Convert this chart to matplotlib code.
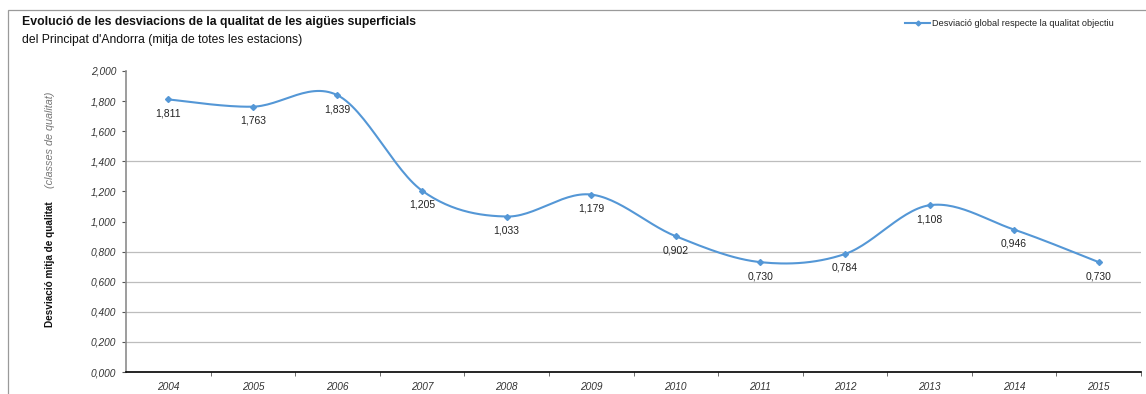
import numpy as np
import matplotlib
matplotlib.use("Agg")
import matplotlib.pyplot as plt
from matplotlib.patches import Rectangle
from matplotlib.lines import Line2D

plt.rcParams['font.family'] = ['Liberation Sans', 'DejaVu Sans']

years = ['2004', '2005', '2006', '2007', '2008', '2009',
         '2010', '2011', '2012', '2013', '2014', '2015']
deviation = [1.811, 1.763, 1.839, 1.205, 1.033, 1.179,
             0.902, 0.730, 0.784, 1.108, 0.946, 0.730]
y_ticks = [0.0, 0.2, 0.4, 0.6, 0.8, 1.0, 1.2, 1.4, 1.6, 1.8, 2.0]
grid_levels = [0.2, 0.4, 0.6, 0.8, 1.4]

LINE_COLOR = '#5497D6'
W, H = 1146, 394


def smooth_curve(xs, ys, steps=30):
    """Bezier smoothing through every point (Catmull-Rom style control points)."""
    pts = np.column_stack([xs, ys]).astype(float)
    out = []
    n = len(pts)
    for i in range(n - 1):
        p0 = pts[i - 1] if i > 0 else pts[i]
        p1 = pts[i]
        p2 = pts[i + 1]
        p3 = pts[i + 2] if i + 2 < n else pts[i + 1]
        c1 = p1 + (p2 - p0) / 6.0
        c2 = p2 - (p3 - p1) / 6.0
        t = np.linspace(0, 1, steps)[:, None]
        seg = ((1 - t) ** 3) * p1 + 3 * ((1 - t) ** 2) * t * c1 \
            + 3 * (1 - t) * t ** 2 * c2 + t ** 3 * p2
        out.append(seg if i == 0 else seg[1:])
    out = np.vstack(out)
    return out[:, 0], out[:, 1]


fig = plt.figure(figsize=(W / 100, H / 100), dpi=100)
fig.patch.set_facecolor('white')

# outer frame of the chart object
fig.add_artist(Rectangle((8 / W, -0.05), 1.2, (H - 10) / H + 0.05,
                         transform=fig.transFigure, fill=False,
                         edgecolor='#9a9a9a', linewidth=0.9))

ax = fig.add_axes([126 / W, 22 / H, 1015 / W, 301 / H])
x = np.arange(len(years))
xs, ys = smooth_curve(x, deviation)
ax.plot(xs, ys, color=LINE_COLOR, linewidth=1.5, zorder=3)
ax.plot(x, deviation, linestyle='none', marker='D', markersize=3,
        color=LINE_COLOR, zorder=4)

for xi, v in zip(x, deviation):
    ax.annotate(f"{v:.3f}".replace('.', ','), (xi, v), xytext=(0, -10),
                textcoords='offset points', ha='center', va='center',
                fontsize=7.5, color='#222222')

for g in grid_levels:
    ax.axhline(g, color='#bdbdbd', linewidth=0.9, zorder=1)

ax.set_xlim(-0.5, len(years) - 0.5)
ax.set_ylim(0, 2.0)
ax.set_yticks(y_ticks)
ax.set_yticklabels([f"{t:.3f}".replace('.', ',') for t in y_ticks],
                   fontsize=7.3, style='italic', color='#333333')
ax.set_xticks(x)
ax.set_xticklabels(years, fontsize=7.3, style='italic', color='#333333')
ax.set_xticks(np.arange(0.5, len(years) - 0.5 + 1, 1.0), minor=True)
ax.tick_params(axis='x', which='major', length=0, pad=7)
ax.tick_params(axis='x', which='minor', length=3, direction='out', color='#555555')
ax.tick_params(axis='y', length=3, direction='out', pad=4, color='#555555')

for side in ['top', 'right']:
    ax.spines[side].set_visible(False)
ax.spines['left'].set_color('#8c8c8c')
ax.spines['left'].set_linewidth(1.2)
ax.spines['bottom'].set_color('#000000')
ax.spines['bottom'].set_linewidth(1.2)

# titles
fig.text(22 / W, 1 - 22 / H, "Evolució de les desviacions de la qualitat de les aigües superficials",
         fontsize=8.8, fontweight='bold', ha='left', va='center', color='#111111')
fig.text(22 / W, 1 - 40 / H, "del Principat d'Andorra (mitja de totes les estacions)",
         fontsize=8.7, ha='left', va='center', color='#111111')

# y axis title
fig.text(50 / W, 1 - 264 / H, "Desviació mitja de qualitat", rotation=90,
         fontsize=7.2, fontweight='bold', ha='center', va='center', color='#111111')
fig.text(50 / W, 1 - 140 / H, "(classes de qualitat)", rotation=90,
         fontsize=7.8, style='italic', ha='center', va='center', color='#777777')

# legend
fig.add_artist(Line2D([905 / W, 930 / W], [1 - 23 / H, 1 - 23 / H],
                      transform=fig.transFigure, color=LINE_COLOR, linewidth=1.5))
fig.add_artist(Line2D([917.5 / W], [1 - 23 / H], transform=fig.transFigure,
                      marker='D', markersize=2.5, color=LINE_COLOR))
fig.text(932 / W, 1 - 23 / H, "Desviació global respecte la qualitat objectiu",
         fontsize=6.6, ha='left', va='center', color='#222222')

fig.savefig('out.png', dpi=100)
